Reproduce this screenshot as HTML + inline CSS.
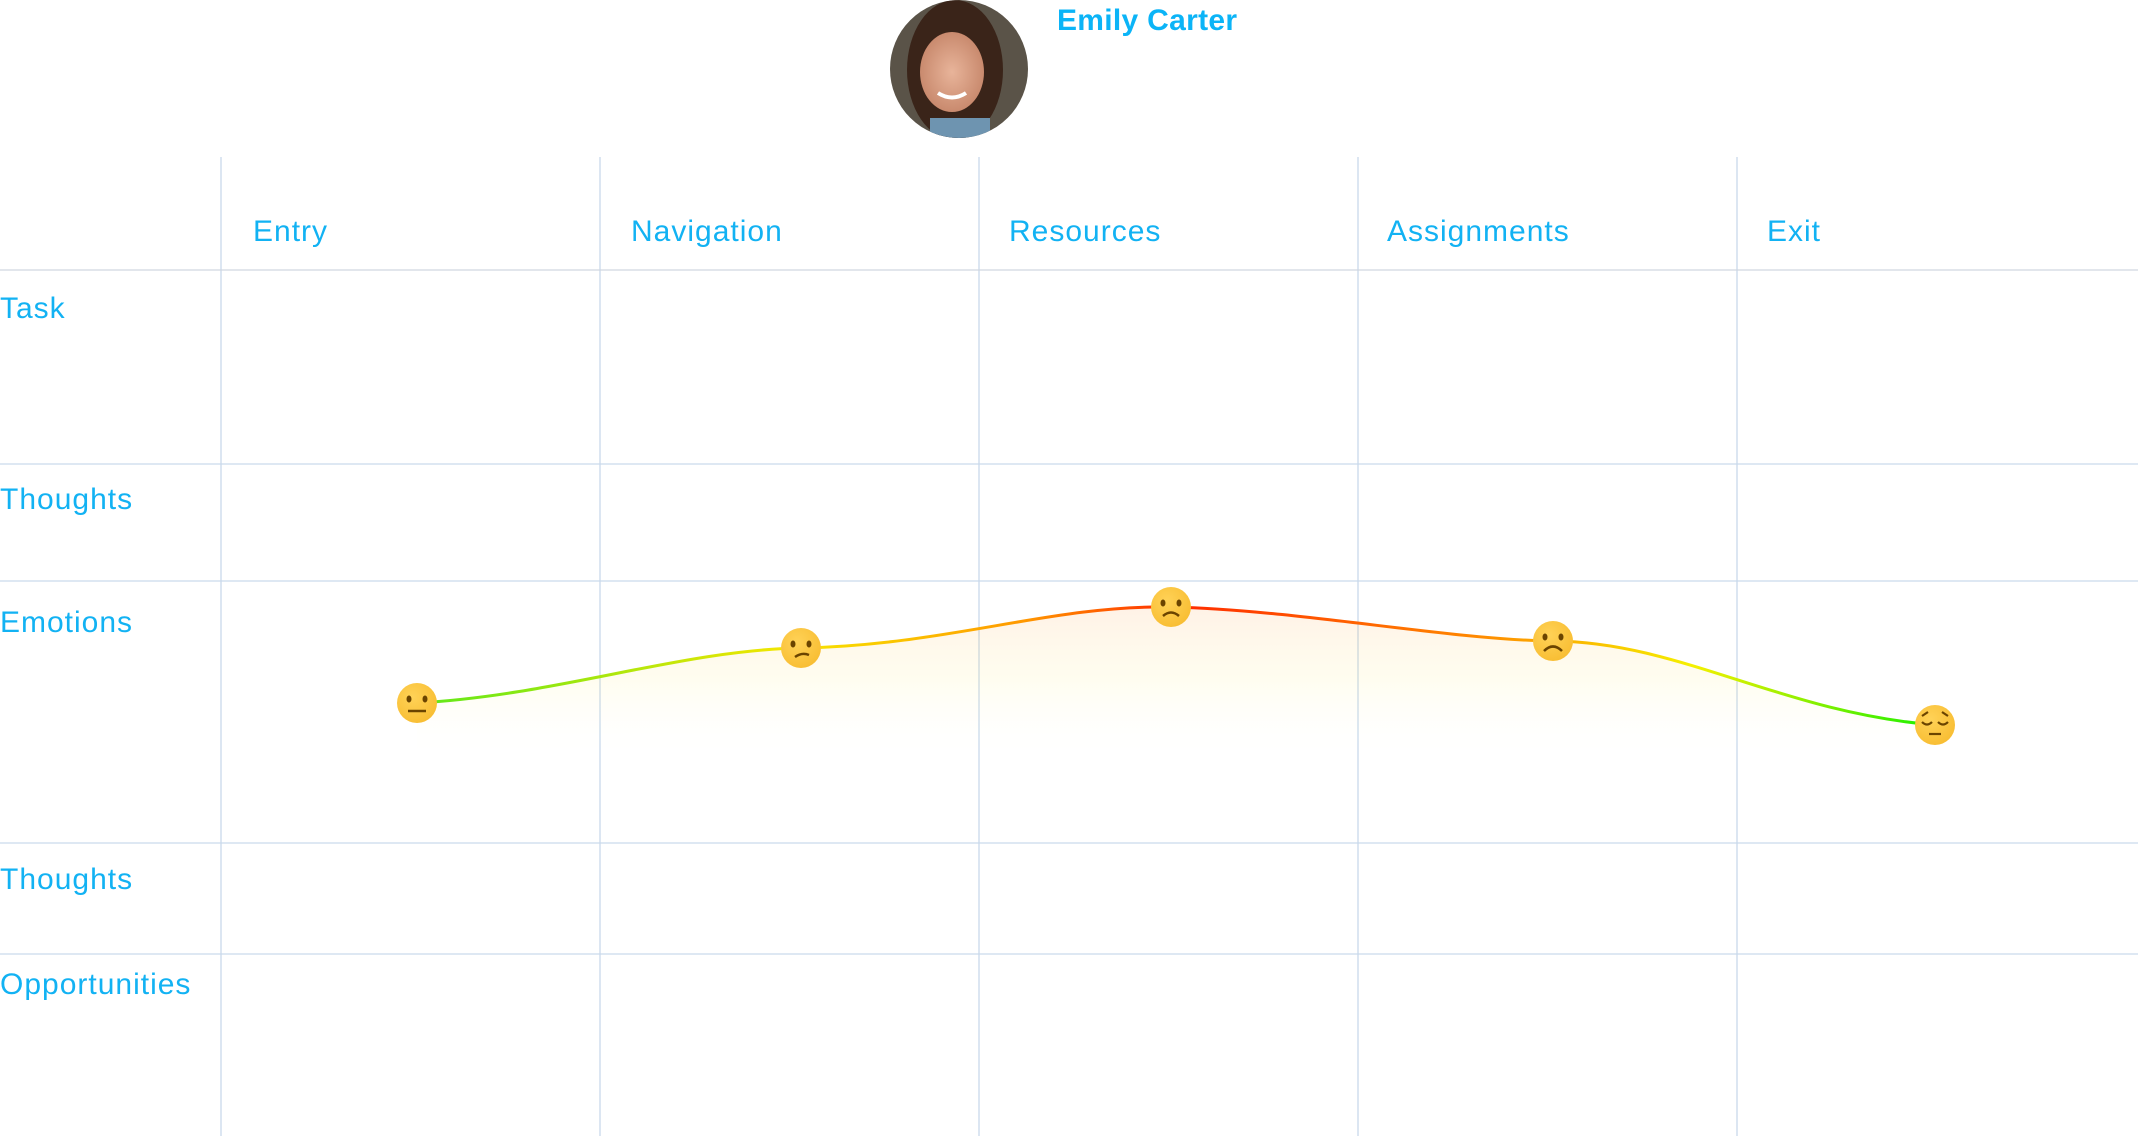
<!DOCTYPE html>
<html><head><meta charset="utf-8"><style>
body{margin:0;width:2138px;height:1136px;background:#fff;overflow:hidden;position:relative;font-family:"Liberation Sans",sans-serif}
.t{position:absolute;color:#12b2f3;font-size:30px;letter-spacing:1px;white-space:nowrap}
</style></head><body>
<svg width="2138" height="1136" style="position:absolute;left:0;top:0">
<defs>
<linearGradient id="lg" x1="417" y1="0" x2="1935" y2="0" gradientUnits="userSpaceOnUse">
<stop offset="0" stop-color="#5ee81a"/><stop offset="0.25" stop-color="#f7e600"/><stop offset="0.4" stop-color="#ff9800"/><stop offset="0.5" stop-color="#ff2a00"/><stop offset="0.7" stop-color="#ff8a00"/><stop offset="0.84" stop-color="#f5f000"/><stop offset="1" stop-color="#18f000"/>
</linearGradient>
<linearGradient id="fg" x1="0" y1="600" x2="0" y2="760" gradientUnits="userSpaceOnUse">
<stop offset="0" stop-color="#ff6a00" stop-opacity="0.10"/><stop offset="0.5" stop-color="#ffe000" stop-opacity="0.06"/><stop offset="1" stop-color="#fff" stop-opacity="0"/>
</linearGradient>
<radialGradient id="eg" cx="0.4" cy="0.35" r="0.7"><stop offset="0" stop-color="#ffd257"/><stop offset="1" stop-color="#f8bd32"/></radialGradient>
</defs>
<g stroke="#c9d9ec" stroke-width="1.3">
<line x1="221" y1="157" x2="221" y2="1136"/><line x1="600" y1="157" x2="600" y2="1136"/><line x1="979" y1="157" x2="979" y2="1136"/><line x1="1358" y1="157" x2="1358" y2="1136"/><line x1="1737" y1="157" x2="1737" y2="1136"/>
<line x1="0" y1="270" x2="2138" y2="270" stroke="#d0d6e0"/><line x1="0" y1="464" x2="2138" y2="464"/><line x1="0" y1="581" x2="2138" y2="581"/><line x1="0" y1="843" x2="2138" y2="843"/><line x1="0" y1="954" x2="2138" y2="954"/>
</g>
<path d="M417,703 C560,695 680,650 801,648 C950,645 1050,605 1171,607 C1300,610 1450,640 1553,641 C1680,642 1780,712 1935,725 L1935,770 L417,770 Z" fill="url(#fg)"/>
<path d="M417,703 C560,695 680,650 801,648 C950,645 1050,605 1171,607 C1300,610 1450,640 1553,641 C1680,642 1780,712 1935,725" fill="none" stroke="url(#lg)" stroke-width="3"/>
<g>
<circle cx="417" cy="703" r="20" fill="url(#eg)"/><ellipse cx="409" cy="699" rx="2.5" ry="3.5" fill="#6b4400"/><ellipse cx="425" cy="699" rx="2.5" ry="3.5" fill="#6b4400"/><line x1="408" y1="711" x2="426" y2="711" stroke="#6b4400" stroke-width="2.5"/>
<circle cx="801" cy="648" r="20" fill="url(#eg)"/><ellipse cx="793" cy="644" rx="2.5" ry="3.5" fill="#6b4400"/><ellipse cx="809" cy="644" rx="2.5" ry="3.5" fill="#6b4400"/><path d="M795,657 Q802,652 809,655" stroke="#6b4400" stroke-width="2.5" fill="none"/>
<circle cx="1171" cy="607" r="20" fill="url(#eg)"/><ellipse cx="1163" cy="603" rx="2.5" ry="3.5" fill="#6b4400"/><ellipse cx="1179" cy="603" rx="2.5" ry="3.5" fill="#6b4400"/><path d="M1163,616 Q1171,609 1179,616" stroke="#6b4400" stroke-width="2.5" fill="none"/>
<circle cx="1553" cy="641" r="20" fill="url(#eg)"/><ellipse cx="1545" cy="637" rx="2.5" ry="3.5" fill="#6b4400"/><ellipse cx="1561" cy="637" rx="2.5" ry="3.5" fill="#6b4400"/><path d="M1544,651 Q1553,642 1562,651" stroke="#6b4400" stroke-width="2.5" fill="none"/>
<circle cx="1935" cy="725" r="20" fill="url(#eg)"/><path d="M1922,722 Q1927,727 1932,722 M1938,722 Q1943,727 1948,722 M1922,716 L1928,712 M1948,716 L1942,712" stroke="#6b4400" stroke-width="2.2" fill="none"/><line x1="1929" y1="734" x2="1941" y2="734" stroke="#6b4400" stroke-width="2.2"/>
</g>
<defs><clipPath id="av"><circle cx="959" cy="69" r="69"/></clipPath>
<radialGradient id="skin" cx="0.5" cy="0.5" r="0.5"><stop offset="0" stop-color="#e8b49a"/><stop offset="1" stop-color="#c98a6e"/></radialGradient></defs>
<g clip-path="url(#av)">
<rect x="890" y="0" width="140" height="140" fill="#5a5348"/>
<ellipse cx="955" cy="70" rx="48" ry="70" fill="#3a2419"/>
<ellipse cx="952" cy="72" rx="32" ry="40" fill="url(#skin)"/>
<rect x="930" y="118" width="60" height="30" fill="#6e94b0"/>
<path d="M938,93 Q952,102 966,93" stroke="#fff" stroke-width="4" fill="none"/>
</g>
</svg>
<div class="t" style="left:1057px;top:4px;font-weight:bold;font-size:30px;letter-spacing:0.3px;color:#0bb4f7">Emily Carter</div>
<div class="t" style="left:253px;top:215px">Entry</div>
<div class="t" style="left:631px;top:215px">Navigation</div>
<div class="t" style="left:1009px;top:215px">Resources</div>
<div class="t" style="left:1387px;top:215px">Assignments</div>
<div class="t" style="left:1767px;top:215px">Exit</div>
<div class="t" style="left:0px;top:292px">Task</div>
<div class="t" style="left:0px;top:483px">Thoughts</div>
<div class="t" style="left:0px;top:606px">Emotions</div>
<div class="t" style="left:0px;top:863px">Thoughts</div>
<div class="t" style="left:0px;top:968px">Opportunities</div>
</body></html>
